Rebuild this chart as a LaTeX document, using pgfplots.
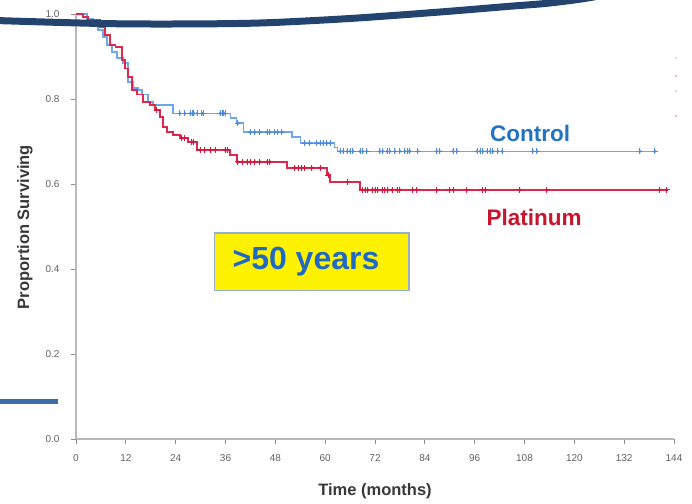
\documentclass[border=0pt]{standalone}
\usepackage{pgfplots}
\pgfplotsset{compat=1.18}
\usepackage{fontspec}
\setmainfont{Liberation Sans}

\definecolor{ctrlline}{RGB}{112,166,234}
\definecolor{ctrlmark}{RGB}{80,138,220}
\definecolor{platline}{RGB}{224,40,76}
\definecolor{platmark}{RGB}{212,24,60}
\definecolor{ctrltext}{RGB}{35,115,195}
\definecolor{plattext}{RGB}{200,20,45}
\definecolor{agetext}{RGB}{30,105,195}
\definecolor{boxedge}{RGB}{150,175,205}
\definecolor{arcnavy}{RGB}{36,68,112}
\definecolor{barblue}{RGB}{60,110,170}

\pgfplotsset{
  censor/.style={only marks, mark=+, mark size=3pt, line width=1pt,
    mark options={solid}},
  censordot/.style={only marks, mark=diamond*, mark size=1.4pt, mark options={solid}},
}

\begin{document}
\begin{tikzpicture}[x=1pt,y=1pt]
\useasboundingbox (0,0) rectangle (692,503);

\pgfplotstableread{
t s
25 0.766
26.2 0.766
27.5 0.766
28 0.766
28.4 0.766
29.2 0.766
30.3 0.766
30.6 0.766
34.7 0.766
35.2 0.766
35.4 0.766
35.9 0.766
39 0.743
41.9 0.722
43.1 0.722
44.3 0.722
46 0.722
46.7 0.722
47.9 0.722
48.6 0.722
49.6 0.722
55.1 0.696
56.3 0.696
58 0.696
58.8 0.696
59.5 0.696
60.4 0.696
61.2 0.696
63.6 0.677
64.3 0.677
65.3 0.677
66 0.677
66.7 0.677
68.4 0.677
69.1 0.677
70 0.677
73.2 0.677
73.9 0.677
74.9 0.677
75.6 0.677
76.8 0.677
78 0.677
79.2 0.677
79.9 0.677
80.4 0.677
82.3 0.677
86.9 0.677
87.6 0.677
90.8 0.677
91.7 0.677
96.6 0.677
97.3 0.677
98 0.677
99 0.677
99.7 0.677
100.4 0.677
101.6 0.677
102.6 0.677
110 0.677
111 0.677
135.8 0.677
139.4 0.677
}\ctrlcensor

\pgfplotstableread{
t s
19.4 0.774
25.5 0.708
26.2 0.708
27.9 0.699
28.2 0.699
29.9 0.680
31 0.680
32.3 0.680
33.5 0.680
35.9 0.680
36.4 0.680
39 0.652
40 0.652
41.2 0.652
41.9 0.652
43.1 0.652
44.3 0.652
46 0.652
46.7 0.652
52.7 0.638
53.5 0.638
54.4 0.638
55.1 0.638
56.8 0.638
58.8 0.638
60.7 0.621
65.4 0.605
68.9 0.586
69.6 0.586
70.3 0.586
71.3 0.586
72 0.586
72.7 0.586
73.7 0.586
74.4 0.586
75.1 0.586
76.1 0.586
77.3 0.586
78 0.586
81.1 0.586
82.1 0.586
86.9 0.586
90 0.586
90.8 0.586
94.1 0.586
97.8 0.586
98.5 0.586
106.9 0.586
113.4 0.586
140.6 0.586
142.3 0.586
}\platcensor

\begin{axis}[
  at={(76pt,64pt)}, anchor=south west,
  scale only axis, width=598pt, height=425pt,
  xmin=0, xmax=144, ymin=0, ymax=1,
  axis x line*=bottom, axis y line*=left,
  axis line style={draw=black!28, line width=1.3pt},
  xtick={0,12,...,144},
  ytick={0,0.2,0.4,0.6,0.8,1},
  tick style={draw=black!45, line width=0.8pt},
  tick align=outside, major tick length=5pt,
  ticklabel style={font=\fontsize{10}{12}\selectfont, text=black!62},
  xticklabel style={yshift=-7pt},
  yticklabel style={xshift=-8pt, /pgf/number format/.cd, fixed, fixed zerofill, precision=1},
  /pgf/number format/assume math mode=true,
  clip=false,
]

% Control arm: Kaplan-Meier steps
\addplot[const plot, color=ctrlline, line width=1.5pt] coordinates {
  (0,1.0) (2.6,0.988) (4.1,0.974) (5.3,0.962) (6.5,0.946) (7.5,0.927)
  (8.7,0.910) (9.9,0.896) (11.3,0.885) (12.5,0.840) (13.7,0.826) (15.0,0.821)
  (15.9,0.810) (17.3,0.793) (18.5,0.786) (23.4,0.766) (37.2,0.755) (38.6,0.743)
  (40.3,0.722) (52.0,0.710) (54.0,0.696) (62.2,0.686) (63.0,0.677) (140,0.677)
};
% Control arm: censored observations
\addplot[censor, color=ctrlmark] table[x=t, y=s] {\ctrlcensor};
\addplot[censordot, color=ctrlmark] table[x=t, y=s] {\ctrlcensor};

% Platinum arm: Kaplan-Meier steps
\addplot[const plot, color=platline, line width=1.5pt] coordinates {
  (0,1.0) (1.7,0.993) (2.9,0.986) (5.8,0.969) (7.0,0.950) (8.2,0.927)
  (9.5,0.922) (11.1,0.892) (11.8,0.872) (12.5,0.852) (13.5,0.821) (14.7,0.810)
  (16.1,0.793) (17.8,0.786) (19.0,0.774) (20.2,0.758) (21.0,0.734) (21.9,0.722)
  (23.4,0.715) (25.0,0.708) (27.0,0.699) (29.1,0.680) (37.1,0.668) (38.8,0.652)
  (50.8,0.638) (60.4,0.621) (61.2,0.605) (68.4,0.586) (142.5,0.586)
};
% Platinum arm: censored observations
\addplot[censor, color=platmark] table[x=t, y=s] {\platcensor};
\addplot[censordot, color=platmark] table[x=t, y=s] {\platcensor};
\end{axis}

% axis titles
\node[rotate=90, font=\bfseries\fontsize{16.5}{20}\selectfont, text=black!78] at (25,276) {Proportion Surviving};
\node[font=\bfseries\fontsize{16.5}{20}\selectfont, text=black!78] at (375,12) {Time (months)};

% arm labels
\node[font=\bfseries\fontsize{22.5}{26}\selectfont, text=ctrltext] at (530,370) {Control};
\node[font=\bfseries\fontsize{22.5}{26}\selectfont, text=plattext] at (534,286) {Platinum};

% subgroup box
\draw[fill=yellow, draw=boxedge, line width=1.3pt] (214.5,270) rectangle (409,212.5);
\node[font=\bfseries\fontsize{32}{36}\selectfont, text=agetext] at (306,241) {>50 years};

% slide decorations
\draw[line width=7pt, color=arcnavy, line cap=round] plot[smooth] coordinates {
  (-5,482.5) (100,479.5) (175,479) (260,480) (350,484.5) (440,491) (507,496.5) (545,499.5) (578,503.5) (605,508)};
\draw[line width=5pt, color=barblue] (-2,102) -- (58,102);
\fill[ctrlline!40] (675,444) rectangle (677,446);
\fill[platline!35] (675,426) rectangle (677,428);
\fill[ctrlline!40] (675,411) rectangle (677,413);
\fill[platline!35] (675,386) rectangle (677,388);
\end{tikzpicture}
\end{document}
